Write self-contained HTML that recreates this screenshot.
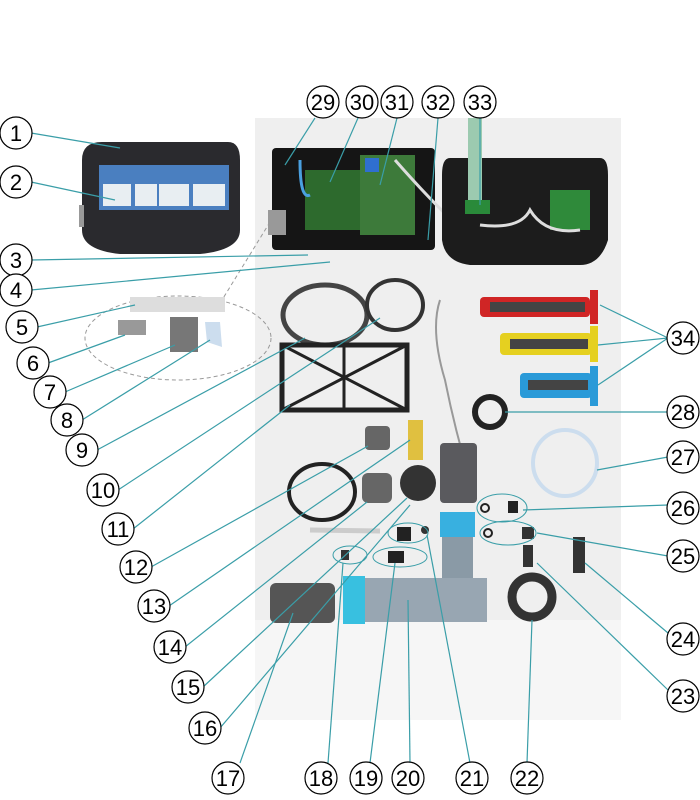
<!DOCTYPE html>
<html><head><style>
html,body{margin:0;padding:0;background:#fff;}
svg{display:block}
text{font-family:"Liberation Sans",sans-serif;font-size:22px;text-anchor:middle;fill:#000}
</style></head><body>
<svg width="700" height="800" viewBox="0 0 700 800" xmlns="http://www.w3.org/2000/svg">
<rect x="255" y="118" width="366" height="600" fill="#efefef"/>
<rect x="255" y="620" width="366" height="100" fill="#f6f6f6"/>
<!-- controller -->
<path d="M102 142 H228 Q240 142 240 160 V230 Q240 250 200 254 H120 Q82 250 82 230 V160 Q82 142 102 142Z" fill="#2a2a2e"/>
<rect x="99" y="165" width="130" height="45" fill="#4a7fc0"/>
<rect x="103" y="184" width="28" height="22" fill="#e8eef2"/><rect x="135" y="184" width="22" height="22" fill="#e8eef2"/>
<rect x="159" y="184" width="30" height="22" fill="#e8eef2"/><rect x="193" y="184" width="32" height="22" fill="#e8eef2"/>
<rect x="79" y="205" width="5" height="22" fill="#999"/>
<!-- open box -->
<rect x="272" y="148" width="163" height="102" rx="4" fill="#151515"/>
<rect x="305" y="170" width="55" height="60" fill="#2d6a2d"/>
<rect x="360" y="155" width="55" height="80" fill="#3d7a3a"/>
<rect x="365" y="158" width="14" height="14" fill="#2f6fd0"/>
<rect x="268" y="210" width="18" height="25" fill="#999"/>
<path d="M300 160 Q300 200 310 195" stroke="#4aa0e0" stroke-width="3" fill="none"/>
<path d="M395 160 Q430 200 460 228" stroke="#ddd" stroke-width="3" fill="none"/>
<!-- lid -->
<path d="M450 158 H600 Q608 158 608 175 V240 Q600 265 580 265 H470 Q445 262 442 240 V175 Q442 158 450 158Z" fill="#1c1c1c"/>
<rect x="468" y="118" width="14" height="85" fill="#9ccab0"/>
<rect x="465" y="200" width="25" height="14" fill="#2a8a3a"/>
<rect x="550" y="190" width="40" height="40" fill="#2f8a3a"/>
<path d="M480 225 Q520 230 530 210 Q545 235 580 230" stroke="#ddd" stroke-width="3" fill="none"/>
<!-- cables -->
<ellipse cx="325" cy="315" rx="42" ry="30" fill="none" stroke="#444" stroke-width="5"/>
<ellipse cx="395" cy="305" rx="28" ry="25" fill="none" stroke="#333" stroke-width="4"/>
<path d="M440 300 Q430 330 445 380 Q455 430 470 480" stroke="#999" stroke-width="2" fill="none"/>
<!-- grid frame -->
<rect x="282" y="345" width="125" height="65" fill="none" stroke="#222" stroke-width="5"/>
<path d="M282 345 L407 410 M407 345 L282 410 M344 345 V410" stroke="#222" stroke-width="3"/>
<!-- electrodes -->
<rect x="480" y="297" width="110" height="20" rx="4" fill="#d02525"/><rect x="590" y="290" width="8" height="34" fill="#d02525"/>
<rect x="500" y="333" width="92" height="22" rx="4" fill="#e5d020"/><rect x="590" y="326" width="8" height="36" fill="#e5d020"/>
<rect x="520" y="373" width="72" height="25" rx="4" fill="#2a9ad8"/><rect x="590" y="366" width="8" height="40" fill="#2a9ad8"/>
<rect x="490" y="302" width="95" height="10" fill="#444"/><rect x="510" y="339" width="78" height="10" fill="#444"/><rect x="528" y="380" width="60" height="10" fill="#444"/>
<circle cx="490" cy="412" r="15" fill="none" stroke="#222" stroke-width="6"/>
<ellipse cx="565" cy="463" rx="32" ry="33" fill="none" stroke="#cde" stroke-width="4"/>
<!-- small parts -->
<rect x="365" y="426" width="25" height="24" rx="4" fill="#666"/>
<rect x="408" y="420" width="15" height="40" fill="#e0c040"/>
<ellipse cx="322" cy="492" rx="33" ry="28" fill="none" stroke="#222" stroke-width="4"/>
<line x1="310" y1="530" x2="380" y2="531" stroke="#ccc" stroke-width="5"/>
<rect x="362" y="473" width="30" height="30" rx="6" fill="#666"/>
<circle cx="418" cy="483" r="18" fill="#333"/>
<rect x="440" y="443" width="37" height="60" rx="4" fill="#5a5a5e"/>
<!-- cell -->
<rect x="442" y="512" width="31" height="75" fill="#8a9aa6"/>
<rect x="440" y="512" width="35" height="25" fill="#38b0e0"/>
<rect x="343" y="578" width="144" height="44" fill="#98a6b2"/>
<rect x="343" y="576" width="22" height="48" fill="#38c0e0"/>
<rect x="270" y="583" width="65" height="40" rx="6" fill="#555"/>
<circle cx="532" cy="597" r="20" fill="none" stroke="#333" stroke-width="9"/>
<rect x="523" y="545" width="10" height="22" fill="#333"/>
<rect x="573" y="537" width="12" height="36" fill="#333"/>
<rect x="341" y="550" width="8" height="10" fill="#333"/><rect x="388" y="551" width="16" height="12" fill="#222"/>
<rect x="397" y="527" width="14" height="14" fill="#222"/><rect x="508" y="501" width="10" height="12" fill="#222"/><rect x="522" y="527" width="12" height="12" fill="#333"/>
<circle cx="425" cy="530" r="4" fill="#333"/><circle cx="485" cy="508" r="4" fill="none" stroke="#222" stroke-width="2"/><circle cx="488" cy="533" r="4" fill="none" stroke="#222" stroke-width="2"/>
<!-- dashed callouts -->
<ellipse cx="178" cy="338" rx="93" ry="42" fill="none" stroke="#999" stroke-dasharray="4,3"/>
<line x1="270" y1="222" x2="222" y2="300" stroke="#999" stroke-dasharray="4,3"/>
<ellipse cx="350" cy="555" rx="17" ry="9" fill="none" stroke="#3a9ea8"/>
<ellipse cx="400" cy="557" rx="27" ry="10" fill="none" stroke="#3a9ea8"/>
<ellipse cx="408" cy="533" rx="20" ry="10" fill="none" stroke="#3a9ea8"/>
<ellipse cx="502" cy="508" rx="25" ry="14" fill="none" stroke="#3a9ea8"/>
<ellipse cx="508" cy="533" rx="28" ry="12" fill="none" stroke="#3a9ea8"/>
<rect x="130" y="297" width="95" height="15" fill="#ddd"/><rect x="118" y="320" width="28" height="15" fill="#999"/>
<rect x="170" y="317" width="28" height="35" fill="#777"/><path d="M205 322 l15 0 l2 25 l-15 -5z" fill="#cde"/>
<!-- leader lines -->
<g stroke="#3a9ea8" stroke-width="1.2" fill="none">
<line x1="31" y1="133" x2="120" y2="148"/>
<line x1="31" y1="182" x2="115" y2="200"/>
<line x1="31" y1="260" x2="308" y2="255"/>
<line x1="31" y1="290" x2="330" y2="262"/>
<line x1="37" y1="327" x2="135" y2="305"/>
<line x1="48" y1="363" x2="125" y2="335"/>
<line x1="65" y1="392" x2="175" y2="345"/>
<line x1="82" y1="420" x2="210" y2="340"/>
<line x1="97" y1="450" x2="305" y2="338"/>
<line x1="118" y1="490" x2="380" y2="318"/>
<line x1="133" y1="529" x2="290" y2="405"/>
<line x1="151" y1="567" x2="368" y2="446"/>
<line x1="169" y1="606" x2="410" y2="440"/>
<line x1="185" y1="647" x2="367" y2="502"/>
<line x1="203" y1="687" x2="407" y2="498"/>
<line x1="220" y1="728" x2="410" y2="505"/>
<line x1="240" y1="763" x2="293" y2="613"/>
<line x1="328" y1="763" x2="343" y2="563"/>
<line x1="370" y1="763" x2="395" y2="563"/>
<line x1="410" y1="763" x2="408" y2="600"/>
<line x1="470" y1="763" x2="427" y2="535"/>
<line x1="527" y1="763" x2="532" y2="620"/>
<line x1="668" y1="690" x2="537" y2="563"/>
<line x1="668" y1="633" x2="585" y2="563"/>
<line x1="668" y1="556" x2="537" y2="533"/>
<line x1="668" y1="505" x2="523" y2="510"/>
<line x1="668" y1="457" x2="597" y2="470"/>
<line x1="668" y1="412" x2="505" y2="412"/>
<line x1="668" y1="338" x2="600" y2="305"/>
<line x1="668" y1="338" x2="598" y2="345"/>
<line x1="668" y1="338" x2="598" y2="385"/>
<line x1="315" y1="118" x2="285" y2="165"/>
<line x1="358" y1="118" x2="330" y2="182"/>
<line x1="397" y1="118" x2="380" y2="185"/>
<line x1="438" y1="118" x2="428" y2="240"/>
<line x1="480" y1="118" x2="480" y2="205"/>
</g>
<!-- numbers -->
<g fill="#fff" stroke="#000" stroke-width="1.2">
<circle cx="16" cy="133" r="16"/><circle cx="16" cy="182" r="16"/><circle cx="16" cy="260" r="16"/><circle cx="16" cy="290" r="16"/>
<circle cx="22" cy="327" r="16"/><circle cx="33" cy="363" r="16"/><circle cx="50" cy="392" r="16"/><circle cx="67" cy="420" r="16"/>
<circle cx="82" cy="450" r="16"/><circle cx="103" cy="490" r="16"/><circle cx="118" cy="529" r="16"/><circle cx="136" cy="567" r="16"/>
<circle cx="154" cy="606" r="16"/><circle cx="170" cy="647" r="16"/><circle cx="188" cy="687" r="16"/><circle cx="205" cy="728" r="16"/>
<circle cx="228" cy="778" r="16"/><circle cx="321" cy="778" r="16"/><circle cx="366" cy="778" r="16"/><circle cx="408" cy="778" r="16"/>
<circle cx="472" cy="778" r="16"/><circle cx="527" cy="778" r="16"/>
<circle cx="683" cy="696" r="16"/><circle cx="683" cy="639" r="16"/><circle cx="683" cy="556" r="16"/><circle cx="683" cy="508" r="16"/>
<circle cx="683" cy="457" r="16"/><circle cx="683" cy="412" r="16"/><circle cx="683" cy="338" r="16"/>
<circle cx="323" cy="102" r="16"/><circle cx="362" cy="102" r="16"/><circle cx="397" cy="102" r="16"/><circle cx="438" cy="102" r="16"/><circle cx="480" cy="102" r="16"/>
</g>
<g>
<text x="16" y="141">1</text><text x="16" y="190">2</text><text x="16" y="268">3</text><text x="16" y="298">4</text>
<text x="22" y="335">5</text><text x="33" y="371">6</text><text x="50" y="400">7</text><text x="67" y="428">8</text>
<text x="82" y="458">9</text><text x="103" y="498">10</text><text x="118" y="537">11</text><text x="136" y="575">12</text>
<text x="154" y="614">13</text><text x="170" y="655">14</text><text x="188" y="695">15</text><text x="205" y="736">16</text>
<text x="228" y="786">17</text><text x="321" y="786">18</text><text x="366" y="786">19</text><text x="408" y="786">20</text>
<text x="472" y="786">21</text><text x="527" y="786">22</text>
<text x="683" y="704">23</text><text x="683" y="647">24</text><text x="683" y="564">25</text><text x="683" y="516">26</text>
<text x="683" y="465">27</text><text x="683" y="420">28</text><text x="683" y="346">34</text>
<text x="323" y="110">29</text><text x="362" y="110">30</text><text x="397" y="110">31</text><text x="438" y="110">32</text><text x="480" y="110">33</text>
</g>
</svg>
</body></html>
